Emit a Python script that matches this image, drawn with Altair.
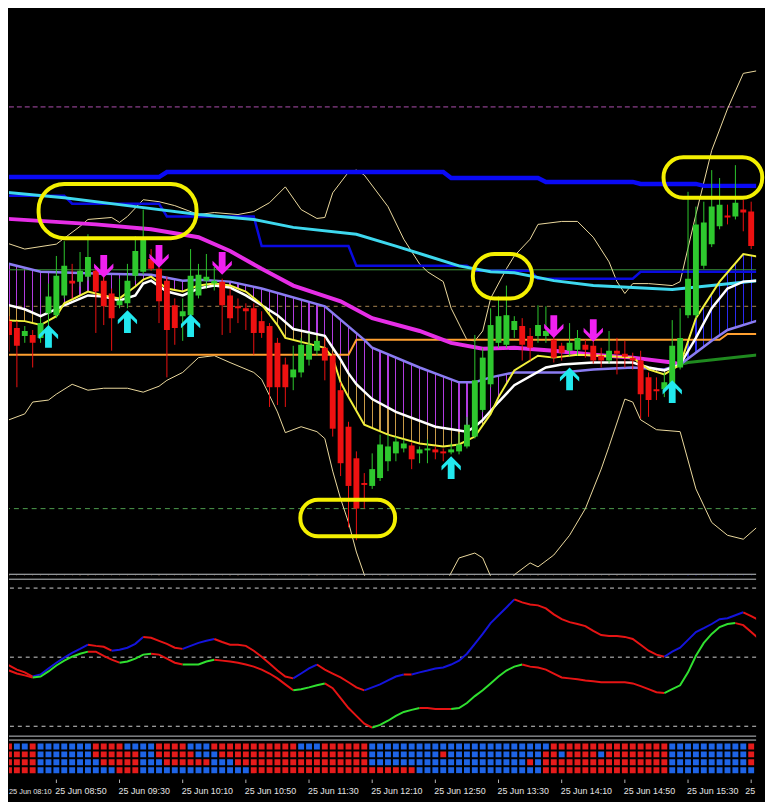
import sys
import altair as alt
import pandas as pd
import numpy as np

# ------------------------------------------------------------------ data
DAY = "2024-06-25"
BAR0 = "08:50"          # time of bar index 0 (M5 bars)
K_FIRST = -7            # first visible bar index
N_BARS = 97

# candles, price in points (bar index -7 .. 89)
opens = [680, 677, 670, 662, 663, 660, 685, 683, 703, 718,
         717, 722, 728, 718, 705, 693, 695, 723, 727, 740,
         730, 718, 693, 682, 683, 703, 718, 715, 717, 703,
         692, 690, 690, 677, 672, 655, 633, 620, 625, 638,
         647, 650, 642, 607, 570, 538, 513, 510, 518, 535,
         543, 548, 551, 543, 546, 547, 545, 544, 545, 550,
         560, 587, 613, 655, 653, 668, 672, 662, 662, 662,
         658, 652, 647, 648, 653, 652, 642, 637, 647, 644,
         640, 637, 620, 608, 608, 613, 630, 683, 683, 733,
         755, 773, 784, 783, 790, 788, 772]
highs = [688, 682, 677, 672, 668, 680, 715, 743, 758, 735,
         747, 765, 732, 722, 710, 720, 735, 763, 790, 750,
         734, 722, 700, 700, 750, 735, 745, 732, 720, 710,
         700, 695, 695, 687, 675, 660, 640, 652, 660, 665,
         662, 660, 645, 615, 575, 545, 523, 543, 562, 562,
         560, 557, 554, 550, 557, 550, 548, 553, 563, 580,
         663, 650, 690, 702, 713, 682, 680, 670, 693, 692,
         665, 655, 675, 668, 658, 657, 650, 667, 660, 657,
         645, 647, 625, 620, 625, 678, 690, 808, 793, 798,
         830, 822, 795, 835, 800, 798, 775]
lows = [662, 646, 610, 655, 630, 655, 670, 680, 700, 700,
        712, 718, 665, 673, 647, 690, 690, 718, 724, 728,
        675, 620, 653, 657, 680, 700, 710, 708, 663, 665,
        675, 668, 643, 660, 590, 592, 590, 607, 620, 632,
        642, 617, 560, 520, 468, 455, 487, 507, 515, 525,
        535, 544, 527, 533, 533, 537, 535, 542, 542, 548,
        558, 585, 610, 650, 650, 660, 637, 637, 655, 655,
        635, 637, 642, 642, 640, 634, 630, 634, 623, 630,
        628, 578, 580, 597, 600, 608, 628, 680, 680, 730,
        752, 770, 775, 780, 768, 750, 730]
closes = [670, 663, 652, 667, 655, 675, 702, 723, 733, 715,
          728, 742, 707, 692, 680, 698, 718, 748, 760, 730,
          697, 668, 670, 687, 723, 724, 722, 718, 693, 680,
          690, 687, 665, 665, 610, 610, 610, 628, 653, 653,
          657, 637, 568, 533, 510, 487, 511, 527, 552, 550,
          555, 553, 537, 547, 547, 544, 543, 547, 552, 572,
          617, 640, 673, 682, 683, 677, 653, 650, 673, 667,
          640, 645, 655, 660, 648, 637, 637, 647, 644, 641,
          637, 603, 597, 606, 615, 652, 660, 720, 775, 777,
          793, 795, 783, 797, 787, 753, 733]

# indicator lines of the price panel: (bar index, price)
blue_k = [-7, 13, 14, 49, 50, 61, 62, 73, 74, 81, 82, 89]
blue_v = [823, 823, 828, 828, 822, 822, 818, 818, 816, 816, 814, 814]

blue2_k = [-7, 1, 2, 13, 14, 25, 26, 37, 38, 52, 53, 60, 61, 73, 74, 89]
blue2_v = [804, 804, 796, 796, 783, 783, 753, 753, 733, 733, 728, 728, 720, 720, 727, 727]

cyan_k = [-7, 1, 9, 18, 25, 30, 38, 43, 47, 51, 55, 58, 63, 68, 73, 78, 83, 89]
cyan_v = [808, 802, 794, 785, 780, 772, 765, 753, 743, 733, 727, 726, 718, 713, 711, 709, 713, 718]

mag_k = [-7, 5, 12, 18, 22, 26, 30, 36, 40, 46, 50, 54, 58, 63, 68, 73, 78, 79]
mag_v = [781, 775, 770, 762, 748, 730, 713, 697, 680, 667, 655, 649, 650, 647, 643, 640, 635, 633]
grn_k = [79, 80, 89]
grn_v = [633, 635, 643]

lav_k = [-7, -2, 6, 12, 16, 18, 22, 26, 34, 39, 40, 46, 51, 53, 55, 58, 64, 68, 73, 77, 79, 83, 85, 89]
lav_v = [737, 727, 725, 724, 718, 719, 717, 710, 692, 658, 650, 630, 615, 615, 620, 625, 625, 628, 630, 628, 633, 657, 668, 678]

wht_k = [-7, -4, -2, 1, 4, 6, 8, 10, 11, 12, 14, 16, 18, 20, 22, 24, 26, 28, 30, 34, 35, 36, 37, 38, 40, 43,
         48, 52, 53, 54, 56, 58, 62, 64, 68, 73, 75, 77, 79, 81, 83, 85, 87, 89]
wht_v = [695, 689, 682, 693, 703, 702, 698, 703, 715, 718, 707, 703, 710, 713, 711, 703, 693, 683, 669, 662, 650, 638, 624, 613, 598, 585,
         570, 565, 570, 577, 595, 612, 630, 633, 635, 635, 630, 627, 633, 660, 690, 710, 717, 718]

yel_k = [-7, -4, -2, 0, 1, 4, 6, 8, 10, 11, 12, 14, 16, 18, 20, 22, 24, 26, 28, 29, 34, 35, 36, 37, 39, 42, 46,
         49, 51, 53, 55, 56, 58, 61, 63, 66, 69, 73, 75, 77, 79, 81, 84, 87, 89]
yel_v = [678, 677, 673, 682, 695, 707, 703, 700, 712, 719, 722, 710, 707, 713, 715, 713, 707, 694, 673, 660, 650, 640, 615, 600, 572, 562, 553,
         550, 552, 560, 583, 600, 627, 642, 640, 643, 642, 640, 628, 623, 633, 680, 717, 745, 742]

bbu_k = [-7, -4, 0, 3, 4, 7, 8, 9, 11, 13, 15, 18, 20, 23, 25, 27, 29, 31, 33, 34, 35, 37, 38, 39, 42, 44, 46,
         47, 49, 50, 52, 53, 54, 55, 57, 58, 60, 61, 64, 66, 68, 70, 71, 72, 73, 75, 78, 79, 81, 83, 85, 87, 89]
bbu_v = [758, 750, 755, 773, 780, 782, 777, 783, 800, 798, 794, 785, 787, 785, 788, 797, 813, 790, 781, 782, 807, 828, 830, 825, 793, 760, 735,
         727, 717, 690, 658, 657, 667, 700, 730, 743, 760, 775, 778, 778, 762, 737, 717, 705, 715, 715, 713, 717, 785, 850, 892, 928, 931]

bbl_k = [-7, -6, -4, -3, -1, 0, 2, 4, 6, 9, 11, 13, 14, 16, 18, 20, 22, 25, 26, 28, 29, 31, 33, 34, 35, 36, 37,
         38, 39, 40, 44, 48, 51, 53, 54, 56, 58, 60, 61, 63, 65, 67, 69, 70, 72, 73, 74, 76, 79, 81, 83, 85, 87, 89]
bbl_v = [578, 577, 583, 595, 597, 603, 613, 607, 609, 609, 605, 611, 617, 625, 640, 642, 635, 625, 618, 585, 564, 570, 565, 558, 525, 497, 473,
         443, 420, 400, 385, 392, 437, 442, 437, 400, 420, 432, 428, 440, 460, 487, 527, 550, 598, 595, 577, 567, 565, 507, 473, 460, 456, 470]

org_k = [-7, 37, 38, 84, 85, 89]
org_v = [643, 643, 658, 658, 664, 664]

levels_main = [894, 729, 692, 487]      # dashed purple, green, dashed tan, dashed green

up_k = [-1, 9, 17, 50, 65, 78]
up_v = [661.5, 676.5, 672.5, 528.5, 618.5, 605.5]
dn_k = [6, 13, 21, 63, 68]
dn_v = [732.5, 742.5, 735.5, 671.5, 667.5]

# highlight ovals: (from bar, to bar, top price, bottom price)
ovals = [(-2.25, 17.75, 816, 761), (52.75, 60.25, 745, 700), (30.9, 42.9, 496, 459), (76.9, 89.4, 843, 802)]

# oscillator (bar index -7 .. 89)
osc_upper = [48.1, 46.4, 44.6, 43.4, 41.6, 42.5, 45.1, 47.6, 49.8, 51.9,
             53.6, 55.4, 54.9, 54.5, 52.8, 53.2, 54.1, 55.8, 58.8, 58.4,
             57.1, 55.8, 54.1, 53.6, 54.9, 56.2, 57.1, 57.9, 56.6, 55.4,
             55.4, 54.9, 52.8, 50.2, 47.2, 44.2, 41.6, 40.8, 42.9, 45.1,
             46.8, 44.6, 42.9, 41.2, 39.1, 36.9, 35.6, 36.9, 38.2, 39.9,
             41.6, 42.5, 42.5, 43.4, 44.2, 45.1, 45.5, 46.8, 48.5, 51.5,
             55.8, 60.1, 64.8, 68.2, 71.6, 75.1, 73.8, 72.9, 72.5, 71.2,
             68.6, 66.5, 65.2, 64.4, 63.5, 61.4, 59.6, 59.2, 59.2, 58.8,
             57.9, 55.4, 52.8, 51.1, 50.2, 52.4, 54.1, 57.5, 60.9, 62.6,
             64.4, 66.5, 66.9, 68.2, 69.5, 67.8, 66.1]
osc_lower = [45.5, 44.2, 42.9, 42.1, 41.2, 41.6, 43.8, 46.4, 48.5, 50.2,
             51.5, 52.4, 52.4, 50.6, 48.9, 47.6, 48.1, 49.4, 51.1, 51.5,
             51.1, 49.4, 47.6, 46.8, 46.8, 46.8, 48.1, 48.9, 48.5, 48.1,
             47.6, 46.8, 45.9, 44.6, 42.9, 40.8, 38.2, 35.6, 36.1, 36.9,
             37.8, 38.6, 36.5, 32.2, 27.9, 24.5, 21.1, 19.4, 20.6, 22.4,
             24.5, 26.2, 27.1, 27.9, 27.9, 27.5, 27.5, 27.5, 27.9, 30.1,
             33.1, 35.6, 38.6, 41.6, 44.2, 45.9, 46.8, 45.9, 45.5, 44.6,
             42.9, 41.2, 40.8, 40.4, 39.9, 39.5, 39.1, 39.1, 39.1, 39.1,
             38.6, 37.4, 36.1, 34.8, 34.4, 36.1, 37.8, 43.4, 50.6, 56.2,
             60.1, 63.1, 64.4, 64.8, 63.9, 60.9, 57.9]
upper_runs = [(-7, -3, "dn"), (-3, 4, "up"), (4, 7, "dn"), (7, 11, "up"), (11, 16, "dn"), (16, 20, "up"),
              (20, 30, "dn"), (30, 33, "up"), (33, 39, "dn"), (39, 44, "up"), (44, 45, "dn"), (45, 58, "up"),
              (58, 77, "dn"), (77, 87, "up"), (87, 89, "dn")]
lower_runs = [(-7, -3, "dn"), (-3, 4, "up"), (4, 8, "dn"), (8, 12, "up"), (12, 16, "dn"), (16, 20, "up"),
              (20, 30, "dn"), (30, 34, "up"), (34, 40, "dn"), (40, 46, "up"), (46, 50, "dn"), (50, 59, "up"),
              (59, 77, "dn"), (77, 86, "up"), (86, 89, "dn")]
osc_levels = [80, 50, 20]

# trend matrix (4 rows, run-length: B = up/blue, R = down/red)
heat_rows = [
    [("B", 1), ("R", 1), ("B", 2), ("R", 1), ("B", 7), ("R", 4), ("B", 4), ("R", 4), ("B", 3), ("R", 11),
     ("B", 3), ("R", 6), ("B", 23), ("R", 15), ("B", 10), ("R", 2)],
    [("R", 5), ("B", 7), ("R", 6), ("B", 2), ("R", 5), ("B", 3), ("R", 19), ("B", 9), ("R", 1), ("B", 12),
     ("R", 2), ("B", 1), ("R", 4), ("B", 1), ("R", 8), ("B", 10), ("R", 2)],
    [("R", 5), ("B", 8), ("R", 5), ("B", 3), ("R", 6), ("B", 3), ("R", 17), ("B", 20), ("R", 1), ("B", 1),
     ("R", 16), ("B", 10), ("R", 2)],
    [("B", 1), ("R", 4), ("B", 10), ("R", 3), ("B", 14), ("R", 21), ("B", 16), ("R", 16), ("B", 11), ("R", 1)],
]

tick_times = ["08:10", "08:50", "09:30", "10:10", "10:50", "11:30", "12:10",
              "12:50", "13:30", "14:10", "14:50", "15:30", "16:10"]
tick_labels = ["25 Jun " + s for s in tick_times]

# ------------------------------------------------------------------ styling / layout
W = 757
H_MAIN, H_OSC, H_HEAT, H_LAB = 569, 161, 37, 18
BULL, BEAR = "#2EC82E", "#EE1111"
SEP = "#C4C8CC"


def tk(k):
    return pd.Timestamp(f"{DAY} {BAR0}") + pd.Timedelta(minutes=5 * k)


xs = alt.Scale(domain=[alt.DateTime(year=2024, month=6, date=25, hours=8, minutes=20),
                       alt.DateTime(year=2024, month=6, date=25, hours=16, minutes=13, seconds=7,
                                    milliseconds=500)], nice=False)
ys = alt.Scale(domain=[419, 988], nice=False, zero=False)
yo = alt.Scale(domain=[15.5, 84.5], nice=False, zero=False)
yh = alt.Scale(domain=[-1, 3.625], reverse=True, nice=False, zero=False)


def X(f="t"):
    return alt.X(f + ":T", scale=xs, axis=None)


def Y(f="v", sc=ys):
    return alt.Y(f + ":Q", scale=sc, axis=None)


def kv(ks, vs):
    return pd.DataFrame({"t": [tk(k) for k in ks], "v": vs})


def line(ks, vs, color, width, dash=None):
    kw = dict(color=color, strokeWidth=width, clip=True, interpolate="linear")
    if dash:
        kw["strokeDash"] = dash
    return alt.Chart(kv(ks, vs)).mark_line(**kw).encode(x=X(), y=Y())


def stripes(k0, k1, color, first, last):
    """vertical 1px hatch lines at every bar between first..last, inside an area spanning k0..k1"""
    span = (k1 - k0) * 8.0
    hw = 0.6 / span
    tr = "rgba(0,0,0,0)"
    stops = [alt.GradientStop(offset=0, color=tr)]
    for k in range(first, last + 1):
        c = (k - k0) / (k1 - k0)
        a, b = max(0.0, c - hw), min(1.0, c + hw)
        stops += [alt.GradientStop(offset=a, color=tr), alt.GradientStop(offset=a, color=color),
                  alt.GradientStop(offset=b, color=color), alt.GradientStop(offset=b, color=tr)]
    stops.append(alt.GradientStop(offset=1, color=tr))
    return alt.LinearGradient(gradient="linear", stops=stops, x1=0, x2=1, y1=0, y2=0)


def band(ks, vs, k0, k1, fill):
    sel = [(k, v) for k, v in zip(ks, vs) if k0 <= k <= k1]
    df = kv([s[0] for s in sel], [s[1] for s in sel])
    return alt.Chart(df).mark_area(color=fill, clip=True).encode(x=X(), y=Y(), y2=alt.value(H_MAIN))


def hline(px):
    return alt.Chart(pd.DataFrame({"a": [0]})).mark_rule(color=SEP, strokeWidth=1).encode(
        y=alt.value(px), x=alt.value(0), x2=alt.value(W))


# ------------------------------------------------------------------ price panel
cdf = pd.DataFrame({"k": list(range(K_FIRST, K_FIRST + N_BARS)), "o": opens, "h": highs, "l": lows, "c": closes})
cdf["t"] = cdf.k.map(tk)
cdf["t0"] = cdf.t - pd.Timedelta(seconds=112)
cdf["t1"] = cdf.t + pd.Timedelta(seconds=112)
up = cdf.c >= cdf.o
cdf["col"] = np.where(up, BULL, BEAR)
cdf["b2"] = np.where((cdf.c - cdf.o).abs() < 2, cdf.o + np.where(up, 2, -2), cdf.c)

layers = [
    band(lav_k, lav_v, -7, 79, stripes(-7, 79, "#B23CE0", -6, 78)),
    band(wht_k, wht_v, -7, 79, stripes(-7, 79, "#C89A48", -6, 78)),
    band(yel_k, yel_v, -7, 79, "black"),
    band(yel_k, yel_v, 79, 89, stripes(79, 89, "#2A2AF0", 80, 89)),
    band(lav_k, lav_v, 79, 89, "black"),
]
lv = pd.DataFrame({"v": levels_main})
layers += [
    alt.Chart(lv.iloc[[0]]).mark_rule(color="#B050B0", strokeDash=[5, 3], strokeWidth=1).encode(y=Y()),
    alt.Chart(lv.iloc[[1]]).mark_rule(color="#3E9A3E", strokeWidth=1).encode(y=Y()),
    alt.Chart(lv.iloc[[2]]).mark_rule(color="#A88450", strokeDash=[4, 4], strokeWidth=1).encode(y=Y()),
    alt.Chart(lv.iloc[[3]]).mark_rule(color="#4E9E4E", strokeDash=[5, 4], strokeWidth=1).encode(y=Y()),
    line(bbu_k, bbu_v, "#EEDBA0", 1),
    line(bbl_k, bbl_v, "#EEDBA0", 1),
    line(org_k, org_v, "#FFA030", 2),
    line(blue_k, blue_v, "#0A0AF5", 4.5),
    line(blue2_k, blue2_v, "#0A0AE0", 2.5),
    line(cyan_k, cyan_v, "#3ED8EE", 3),
    line(mag_k, mag_v, "#E62EE6", 4),
    line(grn_k, grn_v, "#1F8A1F", 3),
    line(lav_k, lav_v, "#8A7CF2", 2.5),
    line(wht_k, wht_v, "#FFFFFF", 2.5),
    line(yel_k, yel_v, "#F2F03C", 2),
    alt.Chart(cdf).mark_rule(strokeWidth=1, clip=True).encode(
        x=X(), y=Y("l"), y2="h:Q", color=alt.Color("col:N", scale=None)),
    alt.Chart(cdf).mark_rect(clip=True).encode(
        x=X("t0"), x2="t1:T", y=Y("o"), y2="b2:Q", color=alt.Color("col:N", scale=None)),
]
UP_PATH = ("M0,-1 L0.85,-0.14 L0.85,0.24 L0.3,-0.3 L0.3,1 L-0.3,1 L-0.3,-0.3 "
           "L-0.85,0.24 L-0.85,-0.14 Z")
DN_PATH = ("M0,1 L0.85,0.14 L0.85,-0.24 L0.3,0.3 L0.3,-1 L-0.3,-1 L-0.3,0.3 "
           "L-0.85,-0.24 L-0.85,0.14 Z")
layers += [
    alt.Chart(kv(up_k, up_v)).mark_point(shape=UP_PATH, size=529, filled=True, opacity=1,
                                          color="#22E8EE", strokeWidth=0).encode(x=X(), y=Y()),
    alt.Chart(kv(dn_k, dn_v)).mark_point(shape=DN_PATH, size=529, filled=True, opacity=1,
                                          color="#F020F0", strokeWidth=0).encode(x=X(), y=Y()),
]
radii = [26, 22, 18, 20]
for (a, b, top, bot), r in zip(ovals, radii):
    odf = pd.DataFrame({"t0": [tk(a)], "t1": [tk(b)], "v0": [top], "v1": [bot]})
    layers.append(alt.Chart(odf).mark_rect(fillOpacity=0, stroke="#F4F000", strokeWidth=4, cornerRadius=r)
                  .encode(x=X("t0"), x2="t1:T", y=Y("v0"), y2="v1:Q"))
layers.append(hline(567.5))
main = alt.layer(*layers).properties(width=W, height=H_MAIN)

# ------------------------------------------------------------------ oscillator panel
OSC_COL = {"upper": {"up": "#1414DC", "dn": "#E61414"}, "lower": {"up": "#30E030", "dn": "#E61414"}}


def seg_df(vals, runs, cols):
    rows = []
    for i, (a, b, d) in enumerate(runs):
        for k in range(a, b + 1):
            rows.append({"t": tk(k), "v": vals[k - K_FIRST], "seg": i, "col": cols[d]})
    return pd.DataFrame(rows)


osc = alt.layer(
    alt.Chart(pd.DataFrame({"v": osc_levels})).mark_rule(color="#D0D0D0", strokeDash=[4, 4], strokeWidth=1)
    .encode(y=Y(sc=yo)),
    alt.Chart(seg_df(osc_upper, upper_runs, OSC_COL["upper"])).mark_line(strokeWidth=2, clip=True)
    .encode(x=X(), y=Y(sc=yo), detail="seg:N", color=alt.Color("col:N", scale=None)),
    alt.Chart(seg_df(osc_lower, lower_runs, OSC_COL["lower"])).mark_line(strokeWidth=2, clip=True)
    .encode(x=X(), y=Y(sc=yo), detail="seg:N", color=alt.Color("col:N", scale=None)),
    hline(1.5),
    hline(160.5),
).properties(width=W, height=H_OSC)

# ------------------------------------------------------------------ trend matrix
hrows = []
for r, runs in enumerate(heat_rows):
    s = "".join(ch * n for ch, n in runs)
    if len(s) != N_BARS:
        print("row", r, "has", len(s), "cells", file=sys.stderr)
    for i, ch in enumerate(s[:N_BARS]):
        t = tk(K_FIRST + i)
        hrows.append({"t0": t - pd.Timedelta(seconds=112), "t1": t + pd.Timedelta(seconds=112),
                      "y0": r - 0.375, "y1": r + 0.375, "col": "#1E64E6" if ch == "B" else "#E51B1B"})
heat = alt.layer(
    alt.Chart(pd.DataFrame(hrows)).mark_rect(clip=True).encode(
        x=X("t0"), x2="t1:T", y=Y("y0", yh), y2="y1:Q", color=alt.Color("col:N", scale=None)),
    hline(1.5),
).properties(width=W, height=H_HEAT)

# ------------------------------------------------------------------ time labels
ldf = pd.DataFrame({"t": [pd.Timestamp(f"{DAY} {s}") for s in tick_times], "lab": tick_labels})
inner = ldf.iloc[1:-1]
TXT = dict(baseline="alphabetic", font="Liberation Sans", color="#E4E4E4")
lab = alt.layer(
    alt.Chart(ldf).mark_rule(color="#B8B8B8", strokeWidth=1, clip=True).encode(
        x=X(), y=alt.value(2.5), y2=alt.value(6)),
    alt.Chart(inner).mark_text(align="left", dx=-1, fontSize=9, **TXT).encode(
        x=X(), y=alt.value(17), text="lab:N"),
    # first label: its tick lies left of the visible range, so it is set a little smaller at the left edge
    alt.Chart(ldf.iloc[[0]]).mark_text(align="left", fontSize=7.5, **TXT).encode(
        x=alt.value(0), y=alt.value(17), text="lab:N"),
    # last label: only its day number fits before the right edge
    alt.Chart(pd.DataFrame({"lab": [tick_labels[-1].split()[0]]})).mark_text(
        align="right", fontSize=9, **TXT).encode(x=alt.value(W - 1), y=alt.value(17), text="lab:N"),
).properties(width=W, height=H_LAB)

chart = alt.vconcat(main, osc, heat, lab, spacing=0).properties(padding=0).configure(
    background="black").configure_view(stroke="transparent")

chart.save("out.html", embed_options={"renderer": "svg", "actions": False})
